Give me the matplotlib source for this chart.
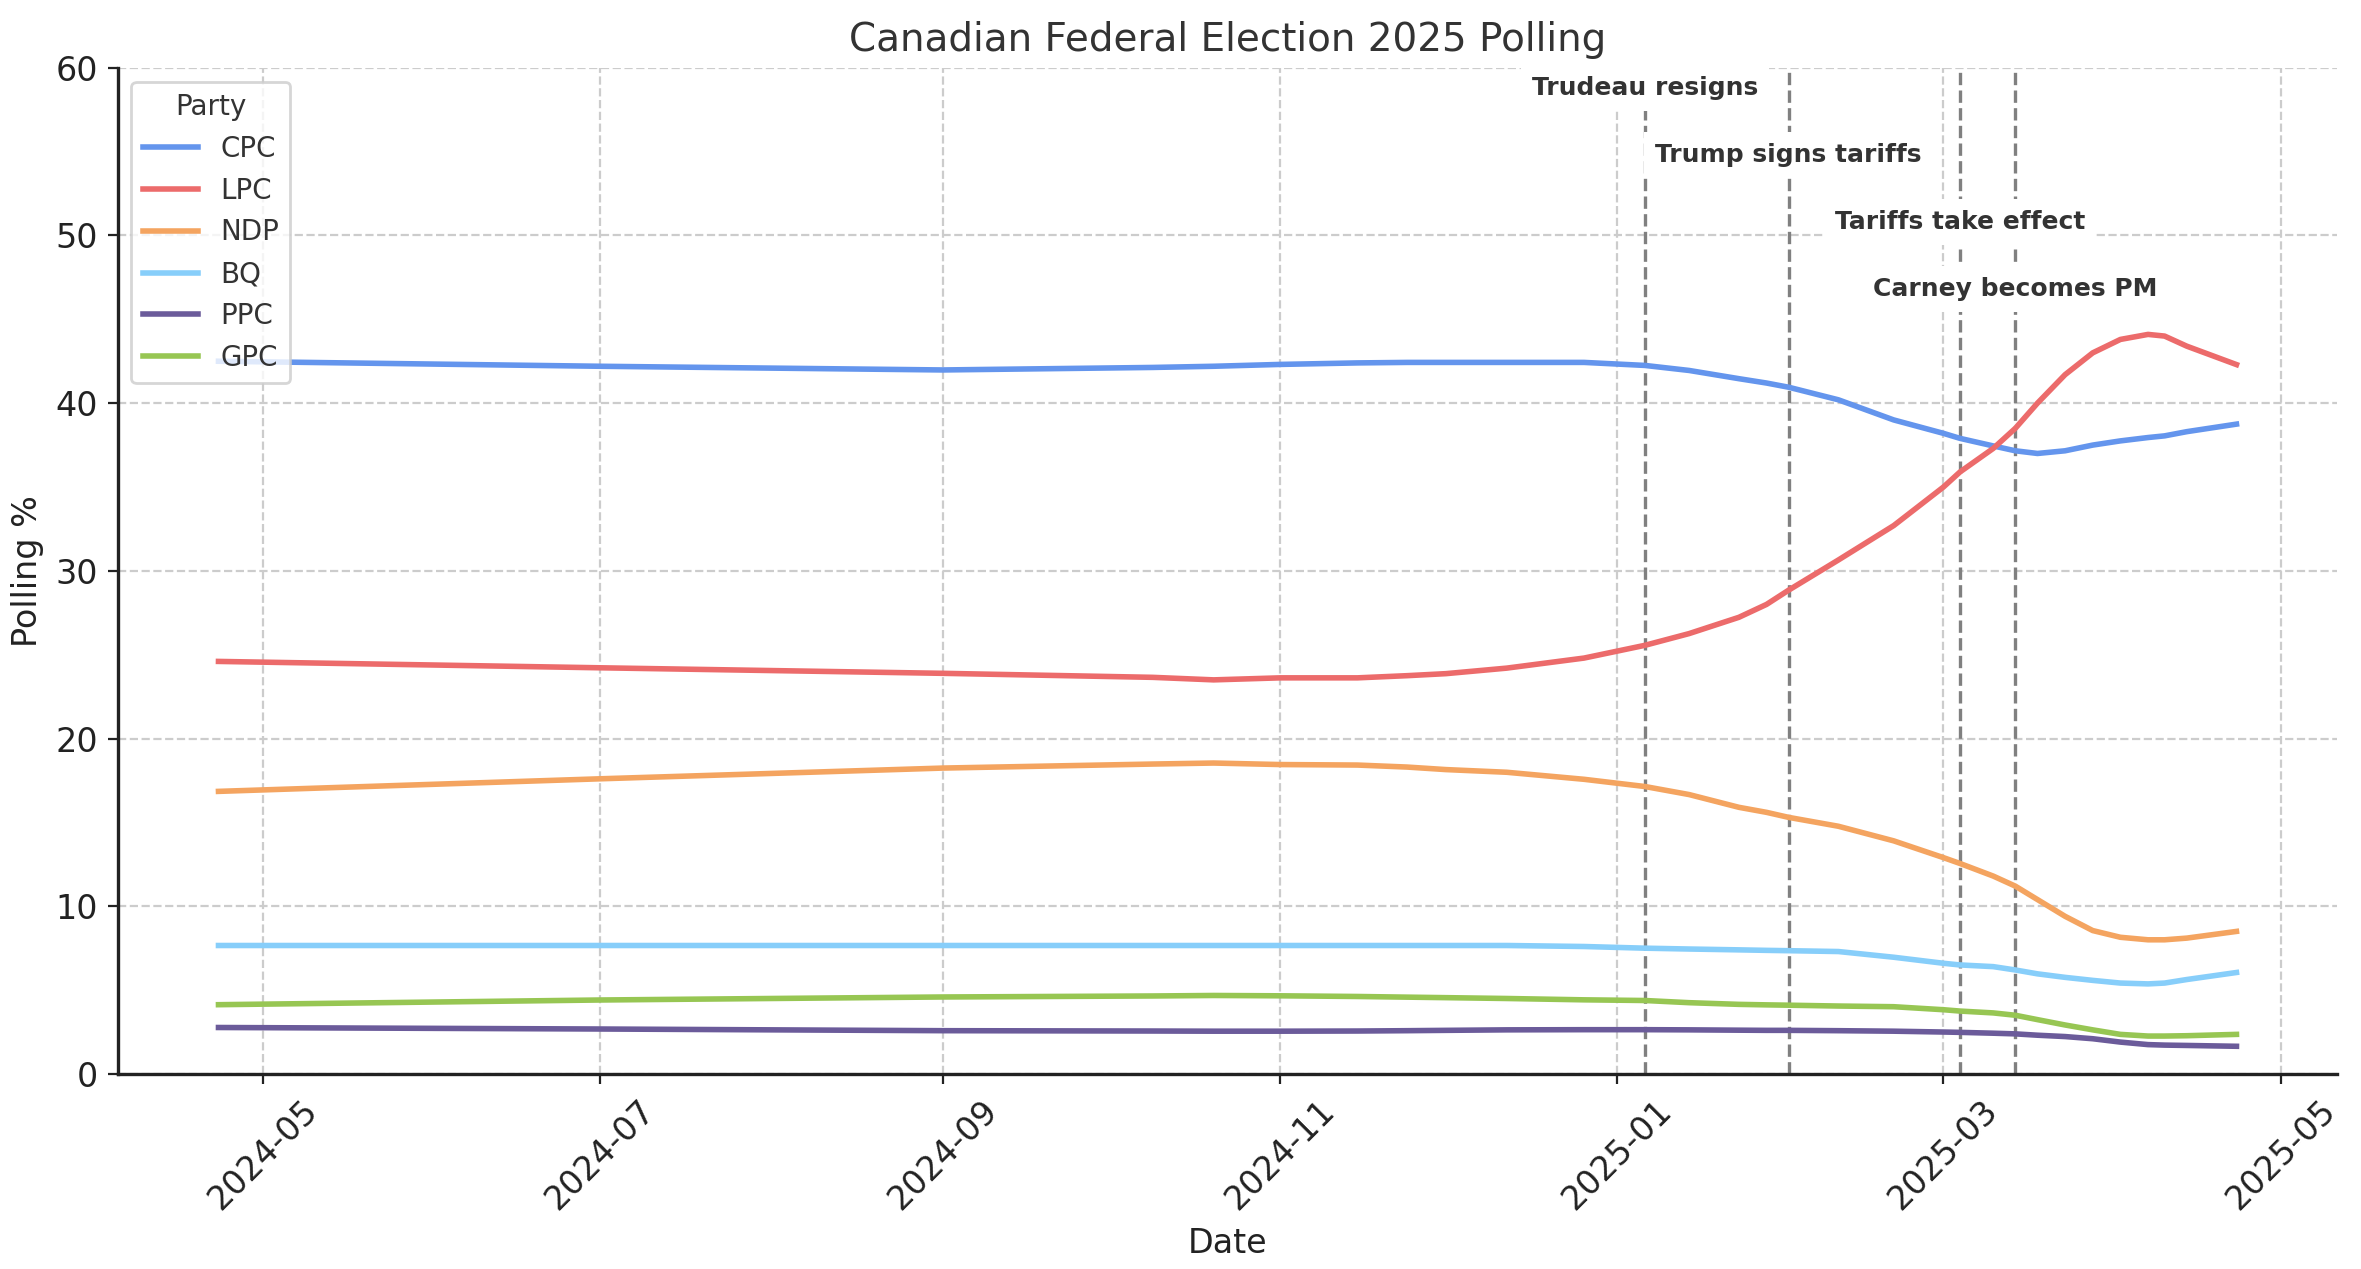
import matplotlib
matplotlib.use('Agg')
import matplotlib.pyplot as plt
import matplotlib.dates as mdates
import pandas as pd

# polling averages
dates = ['2024-04-23', '2024-07-01', '2024-09-01', '2024-10-09', '2024-10-20',
         '2024-11-01', '2024-11-15', '2024-11-24', '2024-12-01', '2024-12-12',
         '2024-12-26', '2025-01-06', '2025-01-14', '2025-01-23', '2025-01-28',
         '2025-02-01', '2025-02-10', '2025-02-20', '2025-03-01', '2025-03-04',
         '2025-03-10', '2025-03-14', '2025-03-18', '2025-03-23', '2025-03-28',
         '2025-04-02', '2025-04-07', '2025-04-10', '2025-04-14', '2025-04-23']

cpc = [42.5, 42.2, 41.98, 42.13, 42.2, 42.31, 42.4, 42.43, 42.43, 42.43,
       42.43, 42.25, 41.95, 41.46, 41.2, 40.95, 40.2, 39.0, 38.2, 37.9,
       37.45, 37.16, 37.0, 37.16, 37.5, 37.75, 37.95, 38.05, 38.3, 38.75]
lpc = [24.6, 24.22, 23.89, 23.65, 23.5, 23.62, 23.62, 23.75, 23.87, 24.2,
       24.8, 25.56, 26.26, 27.23, 28.0, 28.85, 30.65, 32.7, 35.0, 35.9,
       37.3, 38.5, 40.0, 41.7, 43.0, 43.8, 44.1, 44.0, 43.4, 42.3]
ndp = [16.85, 17.6, 18.24, 18.48, 18.54, 18.45, 18.42, 18.3, 18.15, 17.99,
       17.57, 17.14, 16.66, 15.9, 15.6, 15.3, 14.77, 13.9, 12.9, 12.55,
       11.8, 11.2, 10.4, 9.4, 8.55, 8.15, 8.0, 8.0, 8.1, 8.5]
bq = [7.66, 7.66, 7.66, 7.66, 7.66, 7.66, 7.66, 7.66, 7.66, 7.66,
      7.6, 7.5, 7.45, 7.4, 7.37, 7.35, 7.3, 6.96, 6.6, 6.5,
      6.4, 6.2, 5.97, 5.76, 5.58, 5.42, 5.37, 5.42, 5.63, 6.05]
ppc = [2.77, 2.68, 2.58, 2.56, 2.55, 2.55, 2.56, 2.58, 2.6, 2.63,
       2.64, 2.64, 2.63, 2.61, 2.6, 2.6, 2.58, 2.55, 2.5, 2.48,
       2.43, 2.39, 2.31, 2.23, 2.1, 1.9, 1.75, 1.72, 1.7, 1.65]
gpc = [4.13, 4.41, 4.59, 4.65, 4.68, 4.66, 4.62, 4.58, 4.55, 4.5,
       4.42, 4.38, 4.25, 4.15, 4.12, 4.1, 4.05, 4.01, 3.83, 3.75,
       3.64, 3.5, 3.24, 2.92, 2.63, 2.36, 2.26, 2.26, 2.28, 2.36]

parties = ['CPC', 'LPC', 'NDP', 'BQ', 'PPC', 'GPC']
colors = ['#6495ED', '#EC6B6B', '#F4A460', '#87CEFA', '#6B5B9A', '#97C653']

event_dates = ['2025-01-06', '2025-02-01', '2025-03-04', '2025-03-14']
event_labels = ['Trudeau resigns', 'Trump signs tariffs', 'Tariffs take effect', 'Carney becomes PM']

df = pd.DataFrame({'CPC': cpc, 'LPC': lpc, 'NDP': ndp, 'BQ': bq, 'PPC': ppc, 'GPC': gpc},
                  index=pd.to_datetime(dates))

fig, ax = plt.subplots(figsize=(2361 / 200, 1269 / 200), dpi=200)
fig.subplots_adjust(left=0.0498, right=0.990, bottom=0.1537, top=0.9466)

for p, c in zip(parties, colors):
    ax.plot(df.index, df[p], color=c, lw=2, label=p, zorder=3)

# events
for i, (d, lab) in enumerate(zip(event_dates, event_labels)):
    d = pd.Timestamp(d)
    ax.axvline(d, color='gray', ls='--', lw=1.2, zorder=2)
    ax.text(d, 58.8 - 4 * i, lab, ha='center', va='center', fontsize=9,
            fontweight='bold', color='#333333', zorder=4,
            bbox=dict(facecolor='white', edgecolor='none', pad=4))

ax.set_ylim(0, 60)
ax.set_title('Canadian Federal Election 2025 Polling', fontsize=14, color='#333333')
ax.set_xlabel('Date', fontsize=12, color='#222222')
ax.set_ylabel('Polling %', fontsize=12, color='#222222')
ax.xaxis.set_major_locator(mdates.MonthLocator(bymonth=[1, 3, 5, 7, 9, 11]))
ax.xaxis.set_major_formatter(mdates.DateFormatter('%Y-%m'))
plt.setp(ax.get_xticklabels(), rotation=45)
ax.tick_params(labelsize=12, colors='#222222')
ax.grid(True, ls='--', color='#cccccc', lw=0.8)
ax.set_axisbelow(True)
for s in ['top', 'right']:
    ax.spines[s].set_visible(False)
for s in ['left', 'bottom']:
    ax.spines[s].set_color('#222222')
    ax.spines[s].set_linewidth(1.2)

leg = ax.legend(title='Party', loc='upper left', fontsize=10, title_fontsize=10)
for t in leg.get_texts():
    t.set_color('#333333')
leg.get_title().set_color('#333333')

fig.savefig('out.png', dpi=200)
